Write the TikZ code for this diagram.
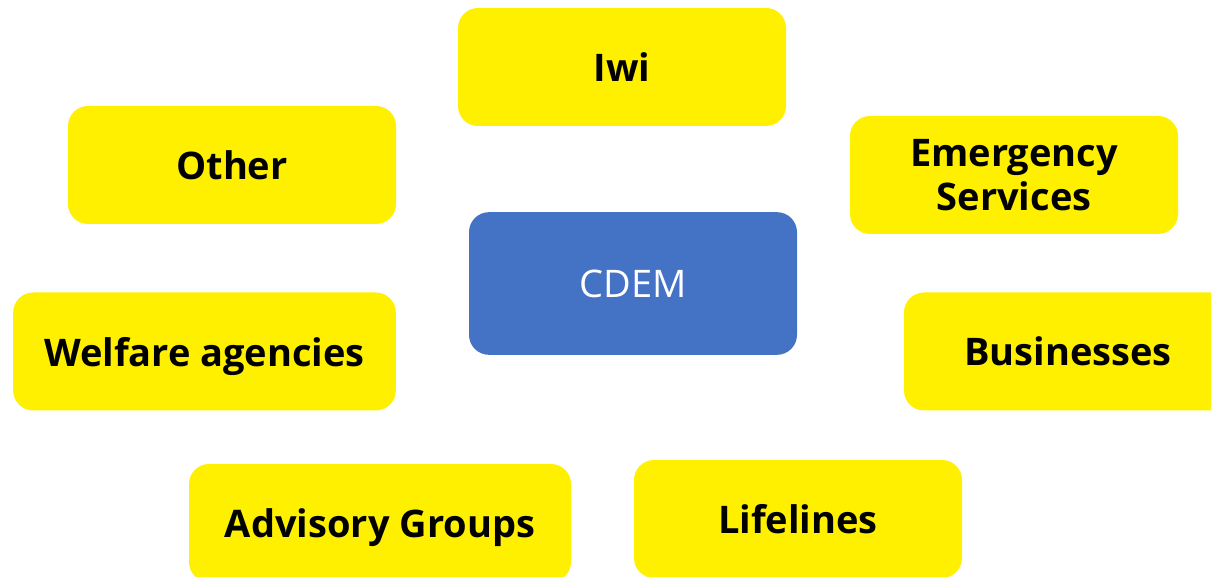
\documentclass[tikz,border=0pt]{standalone}
\usepackage{fontspec}
\setmainfont{Open Sans}
\usepackage{tikz}
\usetikzlibrary{positioning}

\definecolor{boxyellow}{RGB}{255,240,0}
\definecolor{cdemblue}{RGB}{68,114,196}

\tikzset{
  partner/.style={fill=boxyellow, rounded corners=15pt, minimum width=246pt,
    minimum height=88.5pt, align=center, text=black, text depth=0pt,
    font=\fontsize{28.5}{33}\selectfont\bfseries},
  centre/.style={fill=cdemblue, rounded corners=15pt, minimum width=246pt,
    minimum height=107pt, text=white, font=\fontsize{28.5}{33}\selectfont}
}

\begin{document}
\begin{tikzpicture}[x=0.75pt,y=-0.75pt]
  \useasboundingbox (0,0) rectangle (1211,577);

  % Centre
  \node[centre] (cdem) at (633,283.5) {CDEM};

  % Partners around the centre
  \node[partner] (iwi) at (622,67) {Iwi};
  \node[partner] (other) at (232,165) {Other};
  \node[partner] (emergency) at (1014,175) {Emergency\\Services};
  \node[partner, minimum width=287pt] (welfare) at (204.5,351.5) {Welfare agencies};
  \node[partner] (business) at (1068,351.5) {Businesses};
  \node[partner, minimum width=286.5pt] (advisory) at (380,523) {Advisory Groups};
  \node[partner] (lifelines) at (798,519) {Lifelines};
\end{tikzpicture}
\end{document}
